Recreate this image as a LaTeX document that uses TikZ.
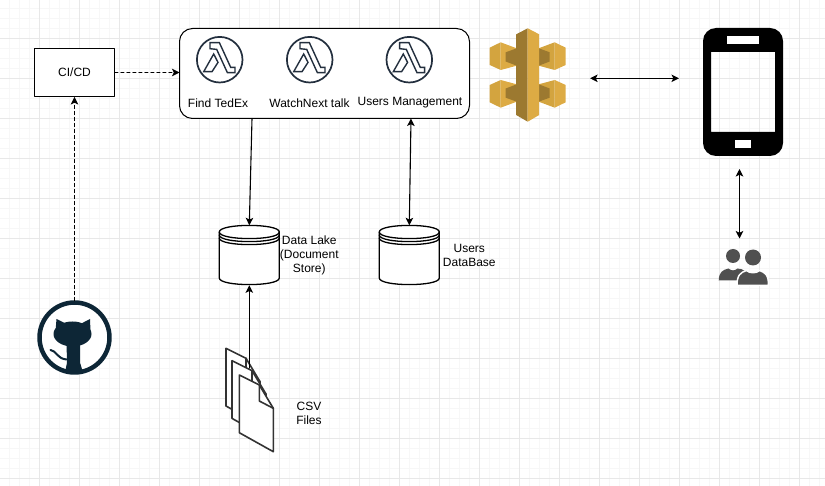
\documentclass[tikz,border=0pt]{standalone}
\usepackage{fontspec}
\setmainfont{Liberation Sans}
\usetikzlibrary{arrows.meta}
\definecolor{gridminor}{HTML}{F7F7F7}
\definecolor{gridmajor}{HTML}{E8E8E8}
\definecolor{awsink}{HTML}{232F3E}
\definecolor{gatelight}{HTML}{DDAB44}
\definecolor{gatemid}{HTML}{D3A43F}
\definecolor{gatedark}{HTML}{9C7930}
\definecolor{hubink}{HTML}{0D2636}
\definecolor{peopleink}{HTML}{505050}
\tikzset{
  iconbox/.style={inner sep=0pt,outer sep=0pt},
  txt/.style={inner sep=0pt,align=center,font=\fontsize{12}{14}\selectfont},
  link/.style={black,line width=1.1pt},
  dashlink/.style={link,dash pattern=on 3pt off 3pt},
  lambdaicon/.pic={
    \draw[awsink,line width=1.7pt] (0,0) circle (22.8);
    \draw[awsink,line width=1.4pt,line join=miter] (-9.7,-17)--(-0.3,-17)--(11,7.7)--(15.3,7.7)--(15.3,13)--(7.7,13)--(-3,-10.3)--(-9.7,-11)--cycle;
    \draw[awsink,line width=1.4pt,line join=miter] (-6,-5.7)--(-16,12)--(-7.7,12)--(-1.7,2.7)--cycle;
  },
  datastore/.pic={
    \draw[black,line width=1.3pt,fill=white] (-30,-23.3) .. controls (-30,-32.1) and (30,-32.1) .. (30,-23.3)--(30,22.7) .. controls (30,31.5) and (-30,31.5) .. (-30,22.7)--cycle;
    \foreach \dy in {-23.3,-20.3,-17.3}
      \draw[black,line width=1.3pt] (-30,\dy) .. controls (-30,\dy+8.8) and (30,\dy+8.8) .. (30,\dy);
  },
  gateicon/.pic={
    \foreach \s in {1,-1}{
      % bras gauche et droit
      \fill[gatemid] (-38,-27.3*\s)--(-27,-32.7*\s)--(-27,-5*\s)--(-38,-10*\s)--cycle;
      \fill[gatelight] (-27,-32.7*\s)--(-11,-26.7*\s)--(-11,-9.3*\s)--(-27,-5*\s)--cycle;
      \fill[gatedark] (-22,-22.7*\s)--(-11,-26.7*\s)--(-11,-9.3*\s)--(-22,-13.5*\s)--cycle;
      \fill[gatelight] (38,-27.3*\s)--(27,-32.7*\s)--(27,-5*\s)--(38,-10*\s)--cycle;
      \fill[gatemid] (27,-32.7*\s)--(11,-26.7*\s)--(11,-9.3*\s)--(27,-5*\s)--cycle;
      \fill[gatedark] (22,-22.7*\s)--(11,-26.7*\s)--(11,-9.3*\s)--(22,-13.5*\s)--cycle;
    }
    \fill[gatedark] (0,-46.7)--(-11.5,-40.7)--(-11.5,40)--(0,46.7)--cycle;
    \fill[gatelight] (0,-46.7)--(11.5,-40.7)--(11.5,40)--(0,46.7)--cycle;
  },
  hubicon/.pic={
    \draw[hubink,line width=4.5pt,fill=white] (0,0) circle (35);
    \fill[hubink] (-2,-3.5) ellipse (19 and 12.5);
    \fill[hubink] (-18,-18.5)--(-19,-6)--(-5,-12)--cycle;
    \fill[hubink] (15.5,-18.5)--(16,-6)--(3,-12)--cycle;
    \fill[hubink] (-8,5)--(-7.5,25)--(-9.5,35)--(8.5,35)--(5.5,25)--(5.5,5)--cycle;
    \draw[hubink,line width=2pt] (-24,12.5) .. controls (-18,13) and (-18,21) .. (-8,22);
  },
  peopleicon/.pic={
    \fill[peopleink] (-10.5,-11) circle (7);
    \fill[peopleink] (-24.8,13.5) .. controls (-24.5,5) and (-21,3) .. (-15,1.5) .. controls (-12,4) and (-9,4) .. (-6,1.5) .. controls (0,2) and (4,4) .. (6,13.5)--cycle;
    \draw[white,line width=1.5pt,fill=peopleink] (-6.5,18.5) .. controls (-6.5,8) and (-3,5.5) .. (3,3.5) .. controls (6,6.5) and (13,6.5) .. (16,3.5) .. controls (22,5.5) and (25,8) .. (25,18.5)--cycle;
    \fill[peopleink] (9.5,-9.5) circle (8);
  },
  csvsheet/.pic={
    \draw[black!80,line width=1.6pt,fill=white] (-10,-25)--(10,-15)--(24,8.3)--(24,51.7)--(-10,32.7)--cycle;
    \draw[black!80,line width=1.6pt] (10,-15)--(10,1)--(24,8.3);
  },
}
\begin{document}
\begin{tikzpicture}[line cap=round,line join=round,>={Stealth[length=7.5pt,width=7.5pt,inset=1.8pt]},x=1pt,y=-1pt]
		\useasboundingbox (0,0) rectangle (825,486);
		% Grille
		\foreach \gx in {9.5,19.5,...,819.5} \draw[gridminor,line width=0.8pt] (\gx,0)--(\gx,486);
		\foreach \gy in {8.5,18.5,...,478.5} \draw[gridminor,line width=0.8pt] (0,\gy)--(825,\gy);
		\foreach \gx in {39.5,79.5,...,799.5} \draw[gridmajor,line width=0.8pt] (\gx,0)--(\gx,486);
		\foreach \gy in {38.5,78.5,...,478.5} \draw[gridmajor,line width=0.8pt] (0,\gy)--(825,\gy);
		% Integration
		\node[draw=black,line width=0.9pt,fill=white,minimum width=80pt,minimum height=48pt,txt,inner sep=0pt] (cicd) at (74.5,72.5) {CI/CD};
		\node[iconbox,minimum size=74pt,circle] (ghub) at (74.5,337.5) {};
		\pic at (ghub) {hubicon};
		% Fonctions
		\node[draw=black,line width=1pt,fill=white,rounded corners=13pt,minimum width=290pt,minimum height=90pt,iconbox] (lambdabox) at (324.5,73.5) {};
		\pic at (219.7,59.7) {lambdaicon};
		\pic at (309.7,59.7) {lambdaicon};
		\pic at (409.3,59.7) {lambdaicon};
		\node[txt] (findlabel) at (218,103) {Find TedEx};
		\node[txt] (watchlabel) at (309.5,103) {WatchNext talk};
		\node[txt] (userslabel) at (410,103) {Users Management};
		% Stockage
		\node[iconbox,minimum size=60pt] (lake) at (249.3,255.3) {};
		\pic at (lake) {datastore};
		\node[iconbox,minimum size=60pt] (userdb) at (409.3,255.3) {};
		\pic at (userdb) {datastore};
		\node[txt] (lakelabel) at (309.3,255.7) {Data Lake\\(Document\\Store)};
		\node[txt] (dblabel) at (469.3,255.7) {Users\\DataBase};
		% Fichiers
		\node[iconbox,minimum width=48pt,minimum height=64pt] (csvfiles) at (249.3,400) {};
		\pic at (236,373.3) {csvsheet};
		\pic at (242,385.7) {csvsheet};
		\pic at (249.3,400) {csvsheet};
		\node[txt] (csvlabel) at (309,413.7) {CSV\\Files};
		% Passerelle et client
		\node[iconbox,minimum width=78pt,minimum height=100.6pt] (apigw) at (527.7,78.3) {};
		\pic at (527.7,75) {gateicon};
		\node[iconbox,minimum width=80pt,minimum height=128pt] (phone) at (743,92) {};
		\fill[black,even odd rule] [rounded corners=13pt] (703,28) rectangle (783,156) [sharp corners] (711,52) rectangle (775,132);
		\fill[white] (727,36) rectangle (759,44);
		\fill[white] (735,140) rectangle (751,148);
		\node[iconbox,minimum width=49.6pt,minimum height=37pt] (people) at (743.5,267) {};
		\pic at (people) {peopleicon};
		% Liaisons
		\draw[dashlink,->] (ghub.north)--(cicd.south);
		\draw[dashlink,->] (cicd.east)--(cicd.east -| lambdabox.west);
		\draw[link,->] ([xshift=-72.5pt]lambdabox.south)--(lake.north);
		\draw[link,<->] ([xshift=86.5pt]lambdabox.south)--(userdb.north);
		\draw[link,->] (csvfiles.north)--(lake.south);
		\draw[link,<->,shorten <=23.4pt,shorten >=24pt] (apigw.east)--([yshift=13.7pt]phone.west);
		\draw[link,<->,shorten <=13pt,shorten >=10pt] ([xshift=-3.5pt]phone.south)--([xshift=-4pt]people.north);
		\end{tikzpicture}
\end{document}
